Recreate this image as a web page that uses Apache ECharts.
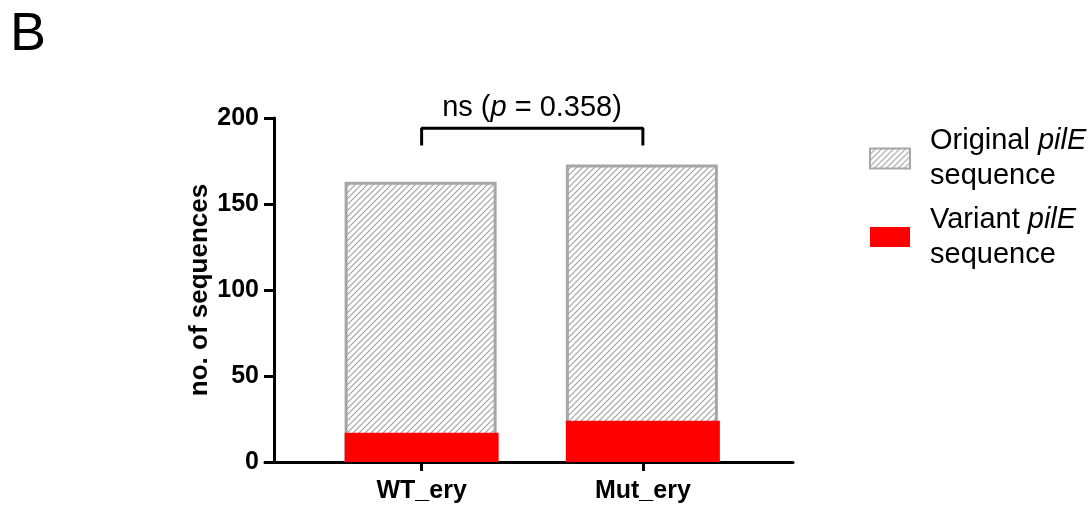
<!DOCTYPE html>
<html><head><meta charset="utf-8">
<script src="https://cdn.jsdelivr.net/npm/echarts@6/dist/echarts.min.js"></script>
<style>html,body{margin:0;padding:0;background:#fff}#c{width:1089px;height:506px}</style>
</head><body><div id="c"></div>
<script>
const categories = ['WT_ery', 'Mut_ery'];
const variantValues = [17, 24];
const originalValues = [146, 149];
const yTicks = [0, 50, 100, 150, 200];
const bracketY = [184, 194];

const FONT = '"Liberation Sans", Arial, sans-serif';

function hatch() {
  const s = 6, c = document.createElement('canvas');
  c.width = s; c.height = s;
  const g = c.getContext('2d');
  g.fillStyle = '#fff'; g.fillRect(0, 0, s, s);
  g.strokeStyle = '#a3a3a3'; g.lineWidth = 1.2;
  g.beginPath();
  g.moveTo(-1, s + 1); g.lineTo(s + 1, -1);
  g.moveTo(-1, 1); g.lineTo(1, -1);
  g.moveTo(s - 1, s + 1); g.lineTo(s + 1, s - 1);
  g.stroke();
  return c;
}
const pattern = { image: hatch(), repeat: 'repeat' };
const totals = originalValues.map((v, i) => v + variantValues[i]);

const chart = echarts.init(document.getElementById('c'));
chart.setOption({
  animation: false,
  title: { text: 'B', left: 5, top: 3, textStyle: { fontFamily: FONT, fontSize: 54, fontWeight: 'normal', color: '#000' } },
  grid: [
    { left: 311, right: 335.5, top: 118, bottom: 44 },
    { left: 265, right: 296, top: 118, bottom: 44 },
    { left: 274, right: 296, top: 118, bottom: 44 }
  ],
  xAxis: [
    { type: 'category', gridIndex: 0, data: categories,
      axisLine: { show: false },
      axisTick: { show: true, alignWithLabel: true, length: 9, lineStyle: { color: '#000', width: 3 } },
      axisLabel: { fontFamily: FONT, fontSize: 25, fontWeight: 'bold', color: '#000', margin: 17 } },
    { type: 'value', gridIndex: 1, min: 0, max: 1,
      axisLine: { show: true, lineStyle: { color: '#000', width: 3 } },
      axisTick: { show: false }, axisLabel: { show: false }, splitLine: { show: false } },
    { type: 'value', gridIndex: 2, min: 0, max: 1, show: false }
  ],
  yAxis: [
    { type: 'value', gridIndex: 0, min: 0, max: 200, show: false, splitLine: { show: false } },
    { type: 'value', gridIndex: 1, min: 0, max: 200, show: false },
    { type: 'value', gridIndex: 2, min: 0, max: 200, interval: 50,
      name: 'no. of sequences', nameLocation: 'middle', nameGap: 61,
      nameTextStyle: { fontFamily: FONT, fontSize: 26, fontWeight: 'bold', color: '#000' },
      axisLine: { show: true, lineStyle: { color: '#000', width: 3 } },
      axisTick: { show: true, length: 10, lineStyle: { color: '#000', width: 3 } },
      axisLabel: { fontFamily: FONT, fontSize: 25, fontWeight: 'bold', color: '#000', margin: 15,
        formatter: v => yTicks.includes(v) ? String(v) : '' },
      splitLine: { show: false } }
  ],
  legend: {
    orient: 'vertical', left: 869, top: 123.5, padding: 0, itemWidth: 40, itemHeight: 20, itemGap: 8.5,
    icon: 'rect',
    data: ['Original', 'Variant'],
    formatter: n => n === 'Original' ? '{f|Original }{i|pilE}\n{f|sequence}' : '{f|Variant }{i|pilE}\n{f|sequence}',
    textStyle: { fontFamily: FONT, fontSize: 29, color: '#000', lineHeight: 35,
      rich: { f: { fontFamily: FONT, fontSize: 29, lineHeight: 35, color: '#000', padding: [0, 0, 0, 15] },
              i: { fontFamily: FONT, fontSize: 29, lineHeight: 35, color: '#000', fontStyle: 'italic' } } }
  },
  series: [
    { name: 'Original', type: 'bar', xAxisIndex: 0, yAxisIndex: 0, barWidth: 152, barGap: '-100%', z: 2,
      data: totals, itemStyle: { color: pattern, borderColor: '#a6a6a6', borderWidth: 3 } },
    { name: 'Variant', type: 'bar', xAxisIndex: 0, yAxisIndex: 0, barWidth: 154, barGap: '-100%', z: 3,
      data: variantValues, itemStyle: { color: '#ff0000' } },
    { name: 'bracket', type: 'line', xAxisIndex: 0, yAxisIndex: 0, symbol: 'none', silent: true, z: 4,
      lineStyle: { color: '#000', width: 3 },
      data: [[0, bracketY[0]], [0, bracketY[1]], [1, bracketY[1]], [1, bracketY[0]]] }
  ],
  graphic: [
    { type: 'text', x: 532, y: 108, style: {
      text: '{n|ns (}{i|p}{n| = 0.358)}', align: 'center', verticalAlign: 'middle',
      rich: { n: { fontFamily: FONT, fontSize: 29, fill: '#000' }, i: { fontFamily: FONT, fontSize: 29, fontStyle: 'italic', fill: '#000' } } } }
  ]
});
</script></body></html>
